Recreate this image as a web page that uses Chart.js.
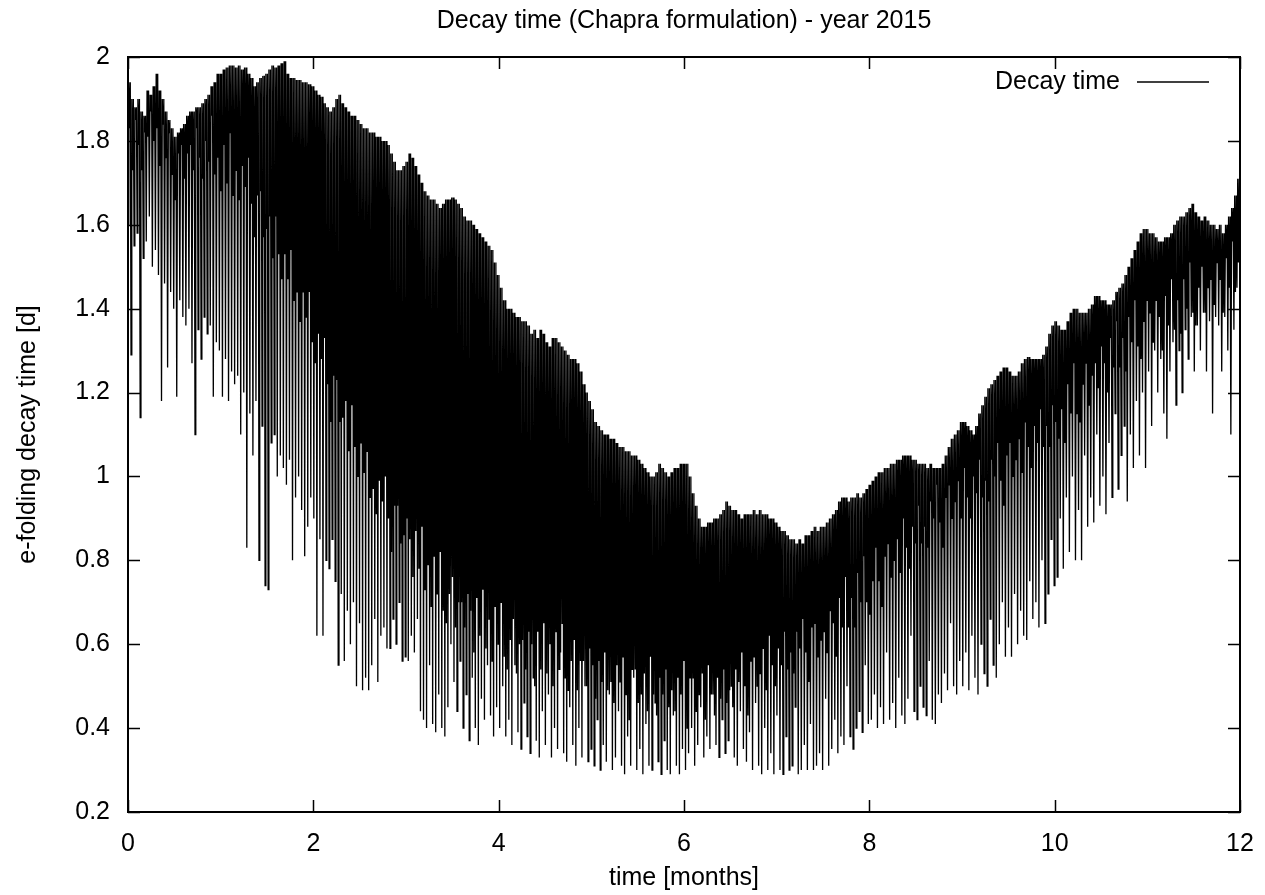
<!DOCTYPE html>
<html><head><meta charset="utf-8">
<script src="https://cdn.jsdelivr.net/npm/chart.js@4/dist/chart.umd.min.js"></script>
<style>html,body{margin:0;padding:0;background:#fff;}canvas{display:block;}</style>
</head><body>
<canvas id="c" width="1265" height="895"></canvas>
<script>
const chartTitle = 'Decay time (Chapra formulation) - year 2015';
const xAxisTitle = 'time [months]';
const yAxisTitle = 'e-folding decay time [d]';
const seriesName = 'Decay time';
const xTickValues = [0, 2, 4, 6, 8, 10, 12];
const xTickLabels = ['0', '2', '4', '6', '8', '10', '12'];
const yTickValues = [0.2, 0.4, 0.6, 0.8, 1.0, 1.2, 1.4, 1.6, 1.8, 2.0];
const yTickLabels = ['0.2', '0.4', '0.6', '0.8', '1', '1.2', '1.4', '1.6', '1.8', '2'];
const daysInYear = 365;
const monthsInYear = 12;

// daily maxima of the decay time (one per day, day 0 .. 364)
const dailyHigh = [
1.94,1.90,1.88,1.90,1.87,1.86,1.92,1.91,1.93,1.96,1.92,1.90,1.87,1.85,1.83,1.81,1.82,1.83,1.84,1.86,1.87,1.87,1.88,1.88,1.89,1.90,1.91,1.93,1.94,1.96,1.96,
1.97,1.975,1.98,1.98,1.975,1.98,1.97,1.975,1.96,1.95,1.93,1.94,1.95,1.955,1.96,1.97,1.98,1.975,1.98,1.985,1.99,1.96,1.95,1.95,1.945,1.945,1.94,1.94,1.935,1.93,
1.92,1.91,1.905,1.89,1.88,1.87,1.88,1.90,1.91,1.89,1.88,1.87,1.86,1.86,1.85,1.84,1.83,1.83,1.82,1.82,1.81,1.81,1.80,1.80,1.79,1.77,1.75,1.73,1.73,1.74,1.75,
1.77,1.76,1.74,1.72,1.70,1.68,1.67,1.66,1.66,1.65,1.64,1.65,1.66,1.66,1.665,1.66,1.65,1.64,1.62,1.61,1.61,1.60,1.59,1.58,1.57,1.56,1.55,1.54,1.51,1.48,
1.45,1.42,1.40,1.40,1.39,1.38,1.38,1.37,1.37,1.36,1.34,1.35,1.33,1.35,1.34,1.32,1.31,1.33,1.33,1.32,1.31,1.30,1.29,1.28,1.28,1.27,1.25,1.22,1.20,1.18,1.16,
1.13,1.12,1.11,1.10,1.10,1.09,1.09,1.08,1.07,1.07,1.06,1.06,1.05,1.05,1.04,1.03,1.02,1.01,1.00,1.00,1.01,1.03,1.02,1.01,1.00,1.01,1.02,1.02,1.03,1.03,
1.03,1.00,0.96,0.93,0.90,0.88,0.88,0.89,0.89,0.90,0.90,0.91,0.92,0.94,0.93,0.92,0.92,0.91,0.90,0.91,0.91,0.91,0.92,0.91,0.92,0.91,0.91,0.90,0.90,0.89,0.88,
0.87,0.87,0.86,0.85,0.85,0.84,0.85,0.84,0.86,0.86,0.87,0.88,0.87,0.88,0.88,0.89,0.90,0.91,0.92,0.94,0.95,0.95,0.94,0.95,0.95,0.96,0.95,0.96,0.97,0.98,
0.99,1.00,1.01,1.01,1.02,1.02,1.03,1.03,1.04,1.04,1.05,1.05,1.05,1.04,1.04,1.03,1.03,1.03,1.02,1.03,1.02,1.02,1.02,1.03,1.05,1.07,1.09,1.10,1.11,1.13,
1.13,1.12,1.11,1.10,1.12,1.15,1.17,1.19,1.21,1.22,1.23,1.24,1.25,1.26,1.26,1.25,1.24,1.24,1.25,1.27,1.28,1.285,1.28,1.28,1.28,1.28,1.29,1.31,1.34,1.36,1.37,
1.36,1.35,1.35,1.37,1.39,1.40,1.40,1.39,1.39,1.39,1.40,1.41,1.43,1.43,1.42,1.42,1.41,1.41,1.42,1.44,1.45,1.46,1.48,1.50,1.52,1.54,1.56,1.58,1.59,1.59,
1.58,1.58,1.57,1.56,1.56,1.57,1.57,1.58,1.60,1.61,1.62,1.62,1.63,1.64,1.65,1.63,1.62,1.61,1.62,1.61,1.60,1.60,1.59,1.60,1.58,1.60,1.62,1.64,1.67,1.71
];

// shallow secondary dip of each day (lower edge of the dense black band)
const dailyShallow = [
1.83,1.73,1.85,1.79,1.73,1.82,1.81,1.87,1.80,1.83,1.74,1.84,1.76,1.82,1.72,1.66,1.77,1.79,1.71,1.77,1.79,1.73,1.83,1.76,1.71,1.80,1.75,1.86,1.72,1.76,1.68,
1.79,1.70,1.82,1.67,1.73,1.66,1.74,1.69,1.76,1.65,1.57,1.67,1.68,1.57,1.59,1.62,1.52,1.62,1.53,1.47,1.53,1.47,1.54,1.42,1.44,1.37,1.44,1.38,1.44,1.32,
1.27,1.34,1.28,1.33,1.22,1.13,1.24,1.23,1.13,1.14,1.18,1.06,1.17,1.07,1.00,1.08,1.01,1.06,0.95,0.97,0.91,0.99,0.94,1.00,0.90,0.82,0.93,0.93,0.84,0.86,0.90,
0.85,0.76,0.87,0.78,0.88,0.73,0.79,0.69,0.81,0.72,0.82,0.68,0.65,0.72,0.76,0.64,0.70,0.70,0.64,0.72,0.68,0.58,0.71,0.62,0.73,0.59,0.66,0.56,0.69,0.60,
0.70,0.57,0.54,0.61,0.66,0.53,0.60,0.61,0.54,0.63,0.60,0.50,0.63,0.54,0.65,0.53,0.60,0.50,0.63,0.54,0.65,0.52,0.49,0.56,0.61,0.49,0.56,0.56,0.50,0.59,0.55,
0.47,0.56,0.51,0.58,0.49,0.51,0.46,0.55,0.51,0.57,0.48,0.42,0.54,0.54,0.46,0.48,0.53,0.44,0.57,0.48,0.43,0.52,0.48,0.54,0.45,0.49,0.44,0.52,0.48,0.56,
0.40,0.52,0.52,0.44,0.48,0.53,0.42,0.55,0.48,0.43,0.52,0.47,0.54,0.46,0.49,0.45,0.54,0.51,0.58,0.50,0.43,0.56,0.57,0.50,0.53,0.59,0.49,0.62,0.55,0.50,0.59,
0.55,0.63,0.54,0.58,0.53,0.63,0.59,0.66,0.58,0.51,0.64,0.65,0.57,0.61,0.63,0.58,0.68,0.65,0.57,0.71,0.64,0.76,0.64,0.71,0.64,0.77,0.70,0.81,0.70,0.67,
0.75,0.83,0.75,0.69,0.81,0.84,0.76,0.80,0.85,0.77,0.90,0.83,0.78,0.88,0.84,0.93,0.84,0.88,0.83,0.94,0.90,0.98,0.89,0.83,0.95,0.98,0.90,0.94,0.99,0.90,
1.02,0.95,0.90,1.00,0.96,1.04,0.95,0.99,0.94,1.04,1.00,1.08,0.99,0.93,1.05,1.08,1.00,1.04,1.09,1.01,1.13,1.07,1.02,1.12,1.08,1.16,1.07,1.12,1.07,1.17,1.13,
1.09,1.16,1.08,1.22,1.15,1.27,1.15,1.13,1.22,1.27,1.17,1.24,1.27,1.21,1.31,1.27,1.20,1.33,1.26,1.37,1.26,1.33,1.25,1.38,1.32,1.42,1.31,1.28,1.37,1.42,
1.39,1.32,1.42,1.38,1.30,1.43,1.36,1.47,1.35,1.42,1.34,1.47,1.40,1.51,1.39,1.36,1.45,1.50,1.39,1.45,1.47,1.41,1.51,1.47,1.39,1.52,1.45,1.56,1.44,1.51
];

// daily minima of the decay time (one per day, day 0 .. 364)
const dailyLow = [
1.60,1.29,1.55,1.58,1.14,1.52,1.56,1.62,1.50,1.54,1.48,1.18,1.46,1.26,1.44,1.40,1.19,1.42,1.38,1.36,1.40,1.27,1.10,1.35,1.28,1.38,1.34,1.36,1.19,1.32,1.30,
1.19,1.28,1.18,1.25,1.22,1.24,1.10,1.20,0.83,1.15,1.05,1.18,0.80,1.12,0.74,0.73,1.08,1.10,1.00,1.05,1.02,0.98,1.04,0.80,0.95,1.00,0.92,0.81,0.88,0.95,
0.90,0.62,0.85,0.62,0.80,0.78,0.85,0.75,0.55,0.72,0.56,0.68,0.60,0.70,0.50,0.65,0.49,0.52,0.49,0.55,0.66,0.51,0.62,0.64,0.59,0.59,0.66,0.60,0.70,0.56,0.57,
0.56,0.62,0.58,0.66,0.44,0.42,0.40,0.55,0.41,0.39,0.48,0.40,0.38,0.45,0.60,0.51,0.44,0.56,0.40,0.48,0.37,0.52,0.40,0.36,0.47,0.42,0.55,0.43,0.38,0.45,
0.40,0.50,0.38,0.42,0.36,0.55,0.39,0.35,0.46,0.38,0.34,0.52,0.37,0.33,0.44,0.36,0.48,0.33,0.40,0.35,0.58,0.34,0.32,0.45,0.36,0.31,0.40,0.33,0.50,0.32,0.35,
0.31,0.42,0.30,0.36,0.32,0.48,0.30,0.33,0.44,0.31,0.29,0.38,0.31,0.52,0.30,0.35,0.29,0.41,0.31,0.30,0.46,0.32,0.29,0.37,0.30,0.29,0.43,0.31,0.29,0.35,
0.30,0.34,0.40,0.31,0.36,0.45,0.33,0.38,0.35,0.48,0.36,0.33,0.42,0.34,0.37,0.50,0.33,0.31,0.44,0.35,0.32,0.39,0.30,0.46,0.31,0.29,0.40,0.30,0.34,0.29,0.43,
0.30,0.29,0.38,0.30,0.31,0.45,0.29,0.30,0.36,0.30,0.41,0.30,0.31,0.34,0.30,0.47,0.31,0.35,0.42,0.34,0.38,0.36,0.50,0.38,0.35,0.40,0.44,0.39,0.55,0.41,
0.42,0.48,0.40,0.45,0.41,0.58,0.42,0.46,0.40,0.52,0.43,0.41,0.47,0.62,0.44,0.42,0.50,0.45,0.43,0.56,0.42,0.41,0.48,0.46,0.53,0.49,0.65,0.50,0.48,0.56,
0.50,0.58,0.49,0.62,0.52,0.48,0.60,0.53,0.50,0.66,0.55,0.52,0.60,0.70,0.57,0.64,0.57,0.72,0.60,0.68,0.62,0.61,0.75,0.66,0.70,0.64,0.80,0.65,0.72,0.85,0.74,
0.76,0.90,0.78,0.95,0.82,1.00,0.80,0.92,0.80,1.05,0.88,0.95,0.89,1.10,0.93,1.00,0.91,1.08,0.95,1.15,0.97,1.05,1.12,0.94,1.10,1.02,1.18,1.05,1.20,1.02,
1.25,1.12,1.30,1.20,1.28,1.15,1.09,1.25,1.32,1.17,1.30,1.20,1.35,1.28,1.38,1.25,1.36,1.30,1.39,1.25,1.37,1.15,1.38,1.36,1.25,1.38,1.30,1.10,1.35,1.45
];

// build the time series: each day goes low -> high -> shallow dip -> high
const points = [];
const dayLen = monthsInYear / daysInYear;
for (let d = 0; d < dailyHigh.length; d++) {
  const x0 = d * dayLen;
  points.push({x: x0, y: dailyLow[d]});
  points.push({x: x0 + 0.25 * dayLen, y: dailyHigh[d]});
  points.push({x: x0 + 0.5 * dayLen, y: dailyShallow[d]});
  points.push({x: x0 + 0.75 * dayLen, y: dailyHigh[d]});
}

const FONT = "'Liberation Sans', Arial, Helvetica, sans-serif";
const FS = 25;
Chart.defaults.color = '#000';
Chart.defaults.font.family = FONT;
Chart.defaults.font.size = FS;

const frame = {
  id: 'gnuFrame',
  afterDraw(chart) {
    const {ctx, chartArea: a, scales: {x, y}} = chart;
    ctx.save();
    ctx.strokeStyle = '#000';
    ctx.lineWidth = 1.5;
    ctx.beginPath();
    const tl = 12;
    yTickValues.forEach(v => {
      const py = Math.round(y.getPixelForValue(v)) + 0.5;
      ctx.moveTo(a.left, py); ctx.lineTo(a.left + tl, py);
      ctx.moveTo(a.right, py); ctx.lineTo(a.right - tl, py);
    });
    xTickValues.forEach(v => {
      const px = Math.round(x.getPixelForValue(v)) + 0.5;
      ctx.moveTo(px, a.bottom); ctx.lineTo(px, a.bottom - tl);
      ctx.moveTo(px, a.top); ctx.lineTo(px, a.top + tl);
    });
    ctx.stroke();
    ctx.lineWidth = 2;
    ctx.strokeRect(a.left, a.top, a.right - a.left, a.bottom - a.top);
    // key
    const ky = a.top + 25;
    ctx.font = FS + 'px ' + FONT;
    ctx.fillStyle = '#000';
    ctx.textAlign = 'right';
    ctx.textBaseline = 'middle';
    ctx.fillText(seriesName, a.right - 120, ky);
    ctx.lineWidth = 1.5;
    ctx.beginPath();
    ctx.moveTo(a.right - 103, ky); ctx.lineTo(a.right - 31, ky);
    ctx.stroke();
    ctx.restore();
  }
};

new Chart(document.getElementById('c'), {
  type: 'line',
  data: {
    datasets: [{
      label: seriesName,
      data: points,
      borderColor: '#000',
      borderWidth: 1.3,
      pointRadius: 0,
      tension: 0,
      fill: false
    }]
  },
  options: {
    responsive: false,
    animation: false,
    devicePixelRatio: 1,
    layout: {padding: {left: 0, right: 25, top: 0, bottom: 0}},
    plugins: {
      legend: {display: false},
      tooltip: {enabled: false},
      title: {
        display: true,
        fullSize: false,
        text: chartTitle,
        color: '#000',
        font: {size: FS, weight: 'normal', family: FONT},
        padding: {top: 6, bottom: 21}
      }
    },
    scales: {
      x: {
        type: 'linear',
        min: 0, max: 12,
        grid: {display: false, drawTicks: false},
        border: {display: false},
        afterBuildTicks: s => { s.ticks = xTickValues.map(v => ({value: v})); },
        afterFit: s => { s.height = 83; s.paddingLeft = 0; s.paddingRight = 0; },
        ticks: {
          padding: 17,
          maxRotation: 0,
          color: '#000',
          callback: (v, i) => xTickLabels[i]
        },
        title: {display: true, text: xAxisTitle, color: '#000', padding: {top: 0, bottom: 2}, font: {size: FS}}
      },
      y: {
        type: 'linear',
        min: 0.2, max: 2,
        grid: {display: false, drawTicks: false},
        border: {display: false},
        afterBuildTicks: s => { s.ticks = yTickValues.map(v => ({value: v})); },
        afterFit: s => { s.width = 128; s.paddingTop = 0; s.paddingBottom = 0; },
        ticks: {
          padding: 18,
          color: '#000',
          callback: (v, i) => yTickLabels[i]
        },
        title: {display: true, text: yAxisTitle, color: '#000', padding: {top: 13, bottom: 0}, font: {size: FS}}
      }
    }
  },
  plugins: [frame]
});
</script>
</body></html>
